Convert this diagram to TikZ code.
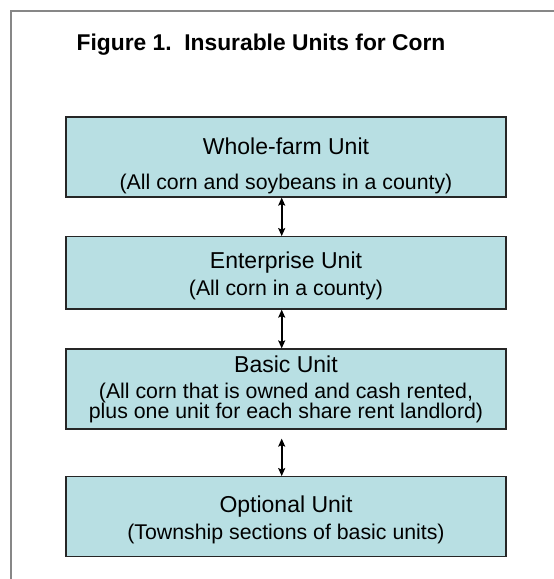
\documentclass[tikz,border=0pt]{standalone}
\usepackage{fontspec}
\setmainfont{Liberation Sans}
\usepackage{xcolor}
\usepackage{tikz}
\usetikzlibrary{arrows.meta,positioning,calc}

\definecolor{unitfill}{RGB}{184,223,227}
\definecolor{framegray}{RGB}{135,135,135}

\newcommand{\unitname}[2]{\rule{0pt}{#1}{\fontsize{23}{20}\selectfont #2}}
\newcommand{\unitend}{\rule[-6pt]{0pt}{6pt}}

\begin{document}
\begin{tikzpicture}[x=1pt, y=-1pt,
    unitbox/.style={draw=black!85, line width=1.2pt, fill=unitfill, minimum width=440pt,
      minimum height=80pt, inner sep=0pt, align=center,
      font=\fontsize{21.3}{20}\selectfont},
    link/.style={line width=1.6pt, {Stealth[length=8pt,width=7pt,inset=1.5pt]}-{Stealth[length=8pt,width=7pt,inset=1.5pt]}}]
    \useasboundingbox (0,0) rectangle (554,579);
    \draw[framegray, line width=2pt] (554,11) -- (11,11) -- (11,579);
    \node[anchor=base, font=\fontsize{22.8}{26}\selectfont\bfseries] (title) at (261,50) {Figure 1.\ \ Insurable Units for Corn};
    \node[unitbox] (whole) at (286,157) {\unitname{36pt}{Whole-farm Unit}\\[15.5pt](All corn and soybeans in a county)\unitend};
    \node[unitbox, minimum height=72.3pt] (enterprise) at (286,272.85) {\unitname{24.6pt}{Enterprise Unit}\\[5.7pt](All corn in a county)\unitend};
    \node[unitbox] (basic) at (286,389) {\unitname{18.6pt}{Basic Unit}\\[6pt](All corn that is owned and cash rented,\\plus one unit for each share rent landlord)\unitend};
    \node[unitbox] (optional) at (286,516.7) {\unitname{25.2pt}{Optional Unit}\\[6pt](Township sections of basic units)\unitend};
    \draw[link] ([xshift=-4.3pt]whole.south) -- ([xshift=-4.3pt]enterprise.north);
    \draw[link] ([xshift=-4.3pt]enterprise.south) -- ([xshift=-4.3pt]basic.north);
    \draw[link, shorten <=9pt] ([xshift=-4.3pt]basic.south) -- ([xshift=-4.3pt]optional.north);
\end{tikzpicture}
\end{document}
